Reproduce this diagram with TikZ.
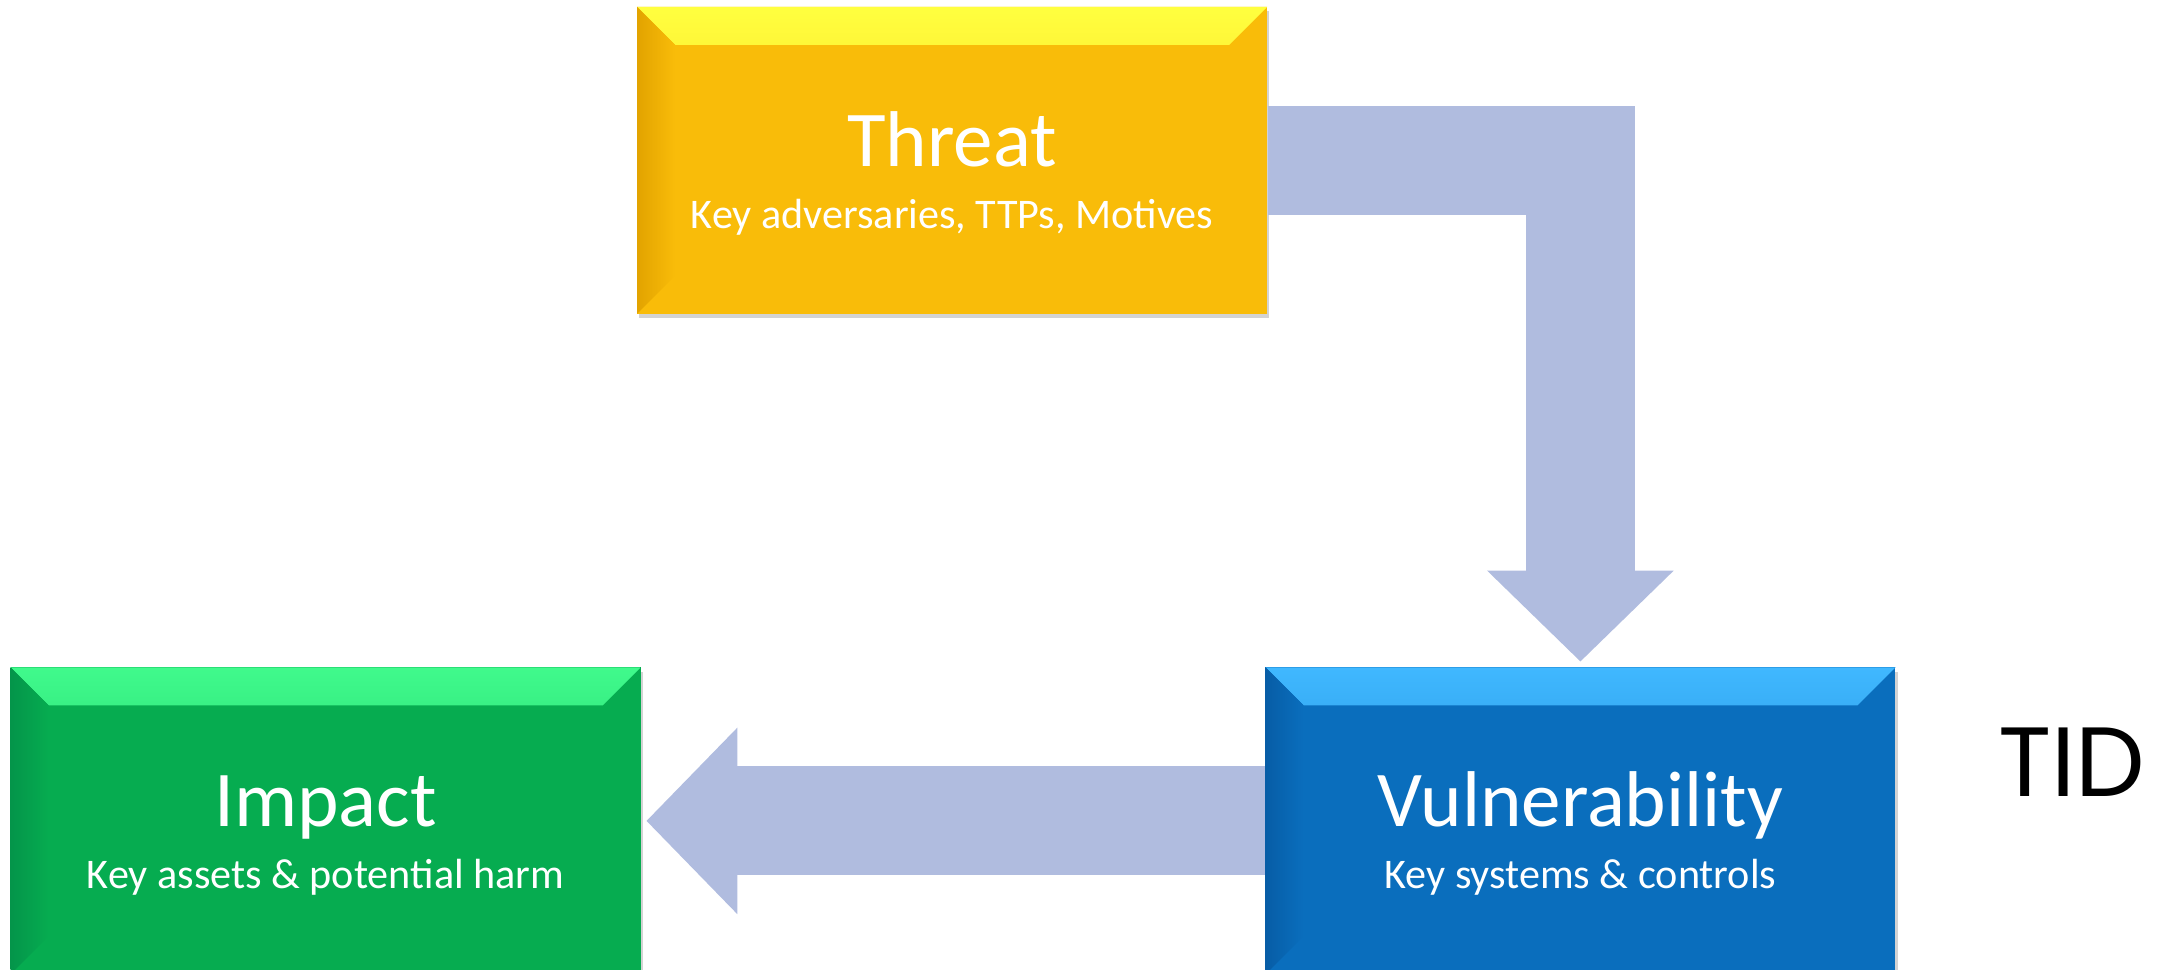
\documentclass[tikz,border=0pt]{standalone}
\usepackage{fontspec}
\setmainfont{Carlito}
\newfontfamily\tidfont{Poppins}
\usepackage{xcolor}
\usepackage{tikz}
\usetikzlibrary{arrows.meta, positioning, shadows}

\definecolor{arrowblue}{HTML}{B0BCDF}
\definecolor{threatbase}{HTML}{F9BC09}
\definecolor{threattop}{HTML}{FFFF3F}
\definecolor{threatside}{HTML}{E2A300}
\definecolor{impactbase}{HTML}{06AC50}
\definecolor{impacttop}{HTML}{40FA8C}
\definecolor{impactside}{HTML}{04954A}
\definecolor{vulnbase}{HTML}{0A6EBD}
\definecolor{vulntop}{HTML}{40B8FF}
\definecolor{vulnside}{HTML}{075DA6}

\newcommand{\bevdepth}{0.38cm}
\newcommand{\boxtitle}[1]{{\fontsize{22.5}{27}\selectfont\rule{0pt}{23pt}#1}}

\tikzstyle{arrow} = [line width=1.09cm, color=arrowblue, line join=miter, -{Triangle[length=0.91cm, width=1.81cm]}]
\tikzstyle{riskbox} = [rectangle, minimum width=6.3cm, minimum height=3.07cm, inner sep=0pt, text=white, align=center, font=\fontsize{12}{17.6}\selectfont, drop shadow={shadow xshift=0.6pt, shadow yshift=-1.2pt, opacity=0.35}]
\tikzset{
    bevel/.style n args={3}{fill=#1, path picture={
        \fill[top color=#2, middle color=#1!75!#2, bottom color=#1]
            (path picture bounding box.north west) -- (path picture bounding box.north east)
            -- ([xshift=-\bevdepth, yshift=-\bevdepth]path picture bounding box.north east)
            -- ([xshift=\bevdepth, yshift=-\bevdepth]path picture bounding box.north west) -- cycle;
        \fill[left color=#3, right color=#1]
            (path picture bounding box.north west)
            -- ([xshift=\bevdepth, yshift=-\bevdepth]path picture bounding box.north west)
            -- ([xshift=\bevdepth, yshift=\bevdepth]path picture bounding box.south west)
            -- (path picture bounding box.south west) -- cycle;
    }}
}

\begin{document}
\begin{tikzpicture}

\useasboundingbox (0,0) rectangle (21.59,9.70);

\node[riskbox, bevel={threatbase}{threattop}{threatside}] (threat) at (9.52,8.095)
    {\boxtitle{Threat}\\Key adversaries, TTPs, Motives};
\node[riskbox, bevel={impactbase}{impacttop}{impactside}, below left=3.52cm and -0.05cm of threat] (impact)
    {\boxtitle{Impact}\\Key assets \& potential harm};
\node[riskbox, bevel={vulnbase}{vulntop}{vulnside}, below right=3.52cm and -0.03cm of threat] (vuln)
    {\boxtitle{Vulnerability}\\Key systems \& controls};

\node[font=\tidfont\fontsize{28}{32}\selectfont] (tid) at (20.72,2.08) {TID};

\draw[arrow] (threat.east) -| ([yshift=0.05cm]vuln.north);
\draw[arrow] (vuln.west) -- ([xshift=0.05cm]impact.east);

\end{tikzpicture}
\end{document}
